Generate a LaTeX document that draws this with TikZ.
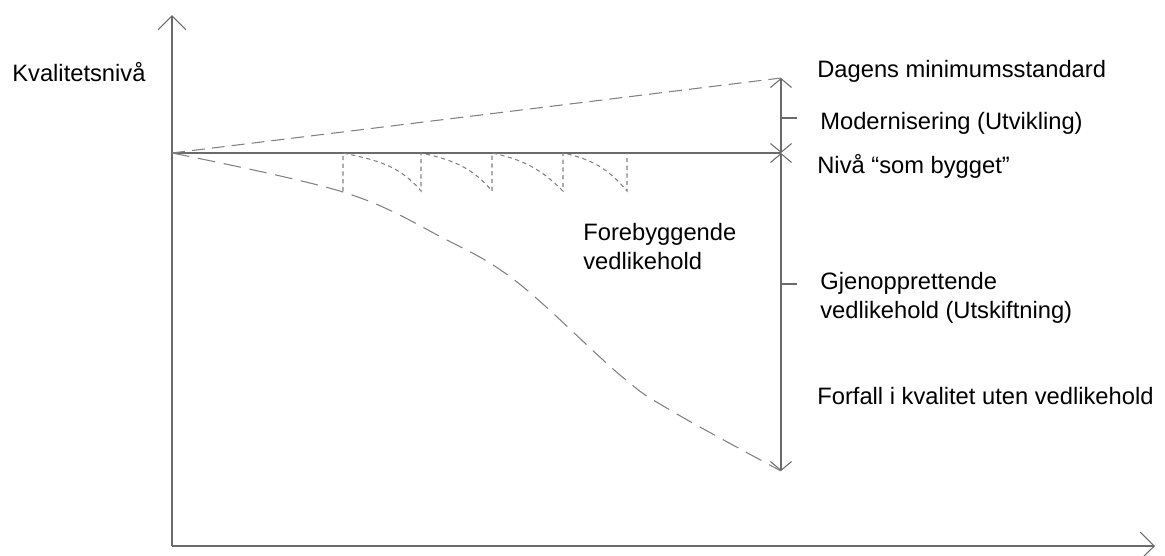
\documentclass[tikz,border=0pt]{standalone}
\usepackage{fontspec}
\setmainfont{Liberation Sans}
\usetikzlibrary{arrows.meta}
\definecolor{linegray}{HTML}{6A6A6A}
\definecolor{dashgray}{HTML}{808080}

\begin{document}
\begin{tikzpicture}[
		x=0.02cm, y=-0.02cm,
		every node/.style={font=\fontsize{13.5}{16}\selectfont, inner sep=0pt, anchor=base west, align=left},
		axis/.style={draw=linegray, line width=0.6pt, -{Straight Barb[length=7.9pt, width=15.6pt]}},
		measure/.style={draw=linegray, line width=0.6pt, {Straight Barb[length=5pt, width=12pt]}-{Straight Barb[length=5pt, width=12pt]}},
		level/.style={draw=linegray, line width=0.6pt},
		trend/.style={draw=dashgray, line width=0.6pt, dash pattern=on 7.4pt off 4pt},
		decay/.style={draw=dashgray, line width=0.6pt, dash pattern=on 10pt off 5pt},
		repair/.style={draw=dashgray, line width=0.6pt, dash pattern=on 2.4pt off 2pt}
		]
		\useasboundingbox (0,0) rectangle (1165,555);
		
		% axes
		\coordinate (corner) at (172,546);
		\coordinate (ytop) at (172,15);
		\coordinate (xend) at (1155,546);
		\coordinate (start) at (172,153);
		\draw[axis] (corner) -- (ytop);
		\draw[axis] (corner) -- (xend);
		\node (ylabel) at (12,81) {Kvalitetsnivå};
		
		% levels on the right
		\coordinate (top) at (781,78);
		\coordinate (built) at (781,153);
		\coordinate (bottom) at (781,471);
		\coordinate (tickA) at (781,118);
		\coordinate (tickAend) at (797,118);
		\coordinate (tickB) at (781,284);
		\coordinate (tickBend) at (797,284);
		\draw[level] (start) -- (built);
		\draw[measure] (built) -- (top);
		\draw[measure] (built) -- (bottom);
		\draw[level] (tickA) -- (tickAend);
		\draw[level] (tickB) -- (tickBend);
		
		\node (standard) at (817,77) {Dagens minimumsstandard};
		\node (modern) at (820,129) {Modernisering (Utvikling)};
		\node (asbuilt) at (817,173) {Nivå “som bygget”};
		\node (restore) at (820,318) {Gjenopprettende\\vedlikehold (Utskiftning)};
		\node (decline) at (817,404) {Forfall i kvalitet uten vedlikehold};
		\node (prevent) at (583,269) {Forebyggende\\vedlikehold};
		
		% development and decay
		\draw[trend] (start) -- (top);
		\draw[decay] plot[smooth, tension=0.6] coordinates {(172,153) (343,192) (443,238) (517,282) (620,375) (670,410) (781,471)};
		
		% preventive maintenance
		\coordinate (p1) at (343,153);
		\coordinate (p2) at (421,153);
		\coordinate (p3) at (492,153);
		\coordinate (p4) at (563,153);
		\coordinate (p5) at (627,153);
		\coordinate (q1) at (343,191);
		\coordinate (q2) at (421,191);
		\coordinate (q3) at (492,191);
		\coordinate (q4) at (563,191);
		\coordinate (q5) at (627,191);
		\draw[repair] (q1) -- (p1) to[out=-12, in=130] (q2) -- (p2) to[out=-12, in=130] (q3) -- (p3) to[out=-12, in=135] (q4) -- (p4) to[out=-12, in=130] (q5) -- (p5);
	\end{tikzpicture}
\end{document}
